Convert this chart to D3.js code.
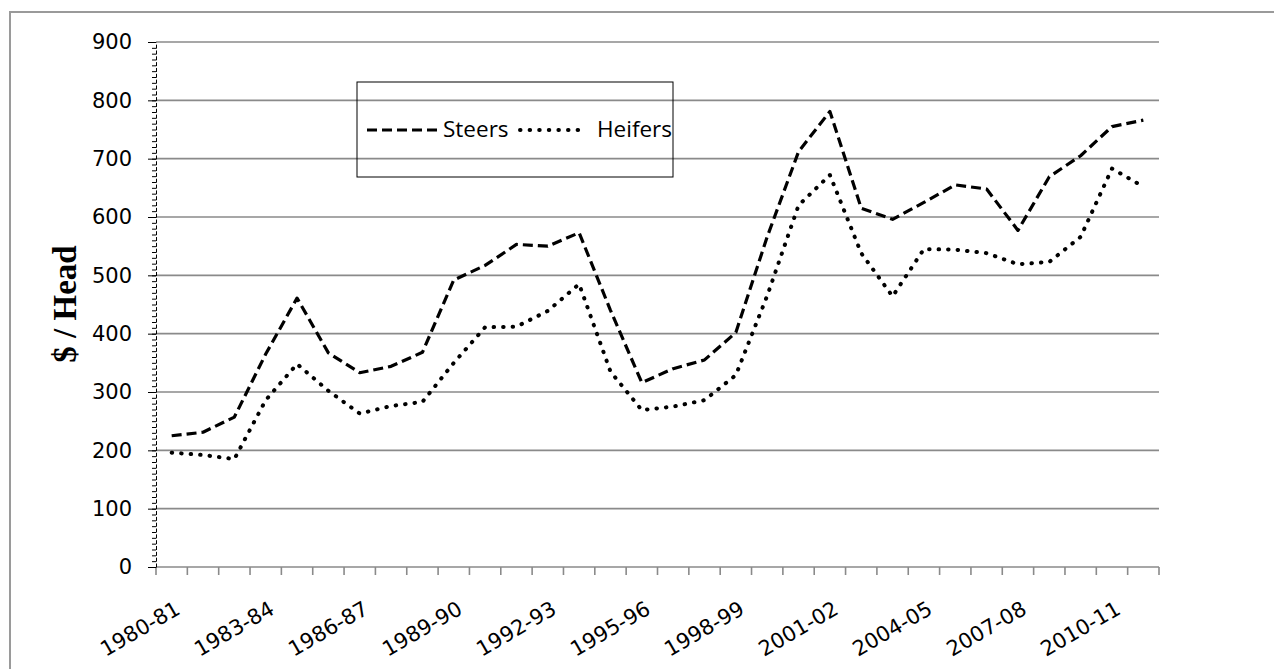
<!DOCTYPE html>
<html>
<head>
<meta charset="utf-8">
<script src="https://cdn.jsdelivr.net/npm/d3@7"></script>
<style>
  html, body { margin: 0; padding: 0; background: #fff; }
  svg { display: block; }
</style>
</head>
<body>
<svg id="chart" width="1274" height="669"></svg>
<script>
// Marketing years, 1980-81 through 2011-12
const categories = [
  "1980-81", "1981-82", "1982-83", "1983-84", "1984-85", "1985-86", "1986-87", "1987-88",
  "1988-89", "1989-90", "1990-91", "1991-92", "1992-93", "1993-94", "1994-95", "1995-96",
  "1996-97", "1997-98", "1998-99", "1999-00", "2000-01", "2001-02", "2002-03", "2003-04",
  "2004-05", "2005-06", "2006-07", "2007-08", "2008-09", "2009-10", "2010-11", "2011-12"
];

// Price per head, dollars
const steers = [
  225, 231, 257, 365, 461, 367, 333, 344,
  368, 492, 517, 553, 550, 573, 440, 316,
  340, 355, 402, 566, 712, 781, 615, 596,
  625, 655, 648, 577, 669, 705, 755, 766
];
const heifers = [
  196, 192, 185, 286, 348, 302, 263, 276,
  283, 350, 411, 412, 439, 485, 335, 269,
  275, 286, 329, 465, 620, 672, 538, 464,
  545, 544, 538, 519, 523, 566, 683, 652
];

const yTicks = [0, 100, 200, 300, 400, 500, 600, 700, 800, 900];
const xTickLabels = ["1980-81", "1983-84", "1986-87", "1989-90", "1992-93", "1995-96",
                     "1998-99", "2001-02", "2004-05", "2007-08", "2010-11"];
const seriesNames = ["Steers", "Heifers"];

const W = 1274, H = 669;
const plot = { left: 156, right: 1159, top: 42, bottom: 567 };
const gridColor = "#8a8a8a";

const svg = d3.select("#chart");
svg.append("rect").attr("width", W).attr("height", H).attr("fill", "#fff");

// outer frame (left and top edges)
svg.append("path")
  .attr("d", `M10,${H + 5}V12H${W + 5}`)
  .attr("fill", "none")
  .attr("stroke", "#9a9a9a")
  .attr("stroke-width", 2);

const x = d3.scaleBand().domain(categories).range([plot.left, plot.right]);
const y = d3.scaleLinear().domain([0, 900]).range([plot.bottom, plot.top]);
const cx = c => x(c) + x.bandwidth() / 2;

// horizontal gridlines
svg.append("g")
  .selectAll("line")
  .data(yTicks)
  .join("line")
  .attr("x1", plot.left).attr("x2", plot.right)
  .attr("y1", d => y(d)).attr("y2", d => y(d))
  .attr("stroke", gridColor)
  .attr("stroke-width", 1.6);

// category boundary ticks below the baseline
const bounds = categories.map(c => x(c)).concat([x.range()[1]]);
svg.append("g")
  .selectAll("line")
  .data(bounds)
  .join("line")
  .attr("x1", d => d).attr("x2", d => d)
  .attr("y1", y(0)).attr("y2", y(0) + 8)
  .attr("stroke", gridColor)
  .attr("stroke-width", 1.6);

// x tick labels, every third year, slanted
svg.append("g")
  .selectAll("text")
  .data(xTickLabels)
  .join("text")
  .attr("transform", d => `translate(${cx(d) + 10},${y(0) + 46}) rotate(-30)`)
  .attr("text-anchor", "end")
  .attr("font-family", "DejaVu Sans")
  .attr("font-size", 21)
  .attr("fill", "#000")
  .text(d => d);

// y axis: minor ticks every 10, major every 100
const minorAxis = d3.axisLeft(y)
  .tickValues(d3.range(0, 901, 10))
  .tickSize(4)
  .tickSizeOuter(0)
  .tickFormat("");
const gMinor = svg.append("g").attr("transform", `translate(${plot.left},0)`).call(minorAxis);
gMinor.select(".domain").attr("stroke", "#000").attr("stroke-dasharray", "4,1.83");
gMinor.selectAll(".tick line").attr("stroke", "#000");

const majorAxis = d3.axisLeft(y)
  .tickValues(yTicks)
  .tickSize(8)
  .tickSizeOuter(0)
  .tickPadding(16)
  .tickFormat(d3.format("d"));
const gMajor = svg.append("g").attr("transform", `translate(${plot.left},0)`).call(majorAxis);
gMajor.select(".domain").remove();
gMajor.selectAll(".tick line").attr("stroke", "#000");
gMajor.selectAll(".tick text")
  .attr("font-family", "DejaVu Sans")
  .attr("font-size", 21)
  .attr("fill", "#000");

// y axis title
svg.append("text")
  .attr("transform", `translate(76,304) rotate(-90)`)
  .attr("text-anchor", "middle")
  .attr("font-family", "Liberation Serif")
  .attr("font-weight", "bold")
  .attr("font-size", 33)
  .attr("fill", "#000")
  .text("$ / Head");

// series lines
const line = d3.line()
  .x((d, i) => cx(categories[i]))
  .y(d => y(d));

const styles = [
  { dash: "10,5", cap: "butt", width: 3.2 },
  { dash: "0.5,9", cap: "round", width: 4 }
];

[steers, heifers].forEach((vals, k) => {
  svg.append("path")
    .datum(vals)
    .attr("d", line)
    .attr("fill", "none")
    .attr("stroke", "#000")
    .attr("stroke-width", styles[k].width)
    .attr("stroke-dasharray", styles[k].dash)
    .attr("stroke-linecap", styles[k].cap)
    .attr("stroke-linejoin", "round");
});

// legend
const legend = svg.append("g");
legend.append("rect")
  .attr("x", 357).attr("y", 82)
  .attr("width", 316).attr("height", 95)
  .attr("fill", "none")
  .attr("stroke", "#000")
  .attr("stroke-width", 1);

const legendItems = [
  { name: seriesNames[0], x1: 367, x2: 437, tx: 443, style: styles[0] },
  { name: seriesNames[1], x1: 520, x2: 579, tx: 597, style: { dash: "0.5,9.1", cap: "round", width: 4 } }
];
legendItems.forEach(it => {
  legend.append("line")
    .attr("x1", it.x1).attr("x2", it.x2)
    .attr("y1", 130).attr("y2", 130)
    .attr("stroke", "#000")
    .attr("stroke-width", it.style.width)
    .attr("stroke-dasharray", it.style.dash)
    .attr("stroke-linecap", it.style.cap);
  legend.append("text")
    .attr("x", it.tx).attr("y", 137)
    .attr("font-family", "Open Sans")
    .attr("font-size", 22.5)
    .attr("fill", "#000")
    .text(it.name);
});
</script>
</body>
</html>
